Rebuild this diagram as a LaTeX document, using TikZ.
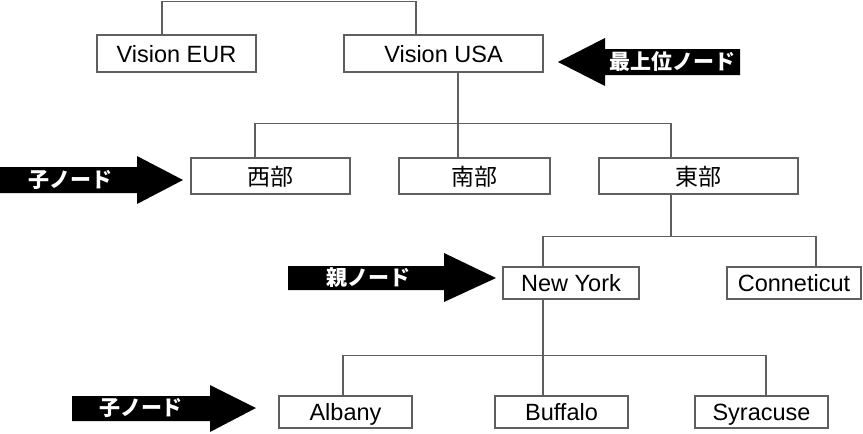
\documentclass[tikz,border=0pt]{standalone}
\usepackage{fontspec}
\setmainfont{Liberation Sans}
\newfontfamily\jp{Noto Sans CJK JP}
\definecolor{lg}{RGB}{95,95,95}
\begin{document}
\begin{tikzpicture}[x=1pt,y=-1pt,
  box/.style={draw=lg, line width=1.2pt, fill=white, inner sep=0pt, text height=20pt, text depth=2.5pt, font=\fontsize{23.5}{25}\selectfont},
  jbox/.style={box, text height=20pt, text depth=2pt, font=\jp\fontsize{23}{25}\selectfont},
  conn/.style={draw=lg, line width=1.3pt},
  lbl/.style={text=white, font=\jp\bfseries\fontsize{21}{22}\selectfont, inner sep=0pt},
  arr/.style={fill=black}]
\useasboundingbox (0,0) rectangle (863,434);
% boxes
\node[box, minimum width=159pt, minimum height=37pt] (veur) at (176.5,53.5) {Vision EUR};
\node[box, minimum width=199pt, minimum height=37pt] (vusa) at (443.5,53.5) {Vision USA};
\node[jbox, minimum width=159pt, minimum height=36pt] (west) at (270.5,176) {西部};
\node[jbox, minimum width=151pt, minimum height=36pt] (south) at (474.5,176) {南部};
\node[jbox, minimum width=199pt, minimum height=36pt] (east) at (698.5,176) {東部};
\node[box, minimum width=136pt, minimum height=32pt] (ny) at (571,283) {New York};
\node[box, minimum width=134pt, minimum height=32pt] (conn) at (794,283) {Conneticut};
\node[box, minimum width=133pt, minimum height=32pt] (alb) at (345.5,412) {Albany};
\node[box, minimum width=133pt, minimum height=32pt] (buf) at (561.5,412) {Buffalo};
\node[box, minimum width=133pt, minimum height=32pt] (syr) at (761.5,412) {Syracuse};
% tree connectors
\draw[conn] ([xshift=-14.5pt]veur.north) -- ++(0,-33) -| ([xshift=-27.5pt]vusa.north);
\draw[conn] ([xshift=14.5pt]vusa.south) -- ([xshift=-16.5pt]south.north);
\draw[conn] ([xshift=-15.5pt]west.north) -- ++(0,-34) -| ([xshift=-27.5pt]east.north);
\draw[conn] ([xshift=-27.5pt]east.south) -- ++(0,42) coordinate (b2);
\draw[conn] ([xshift=-28pt]ny.north) |- (b2) -| ([xshift=22pt]conn.north);
\draw[conn] ([xshift=-28pt]ny.south) -- ([xshift=-18.5pt]buf.north);
\draw[conn] ([xshift=-2.5pt]alb.north) -- ++(0,-40) -| ([xshift=4.5pt]syr.north);
% pointer arrows
\fill[arr] (558,62) -- (605,38) -- (605,49) -- (740,49) -- (740,75) -- (605,75) -- (605,86) -- cycle;
\node[lbl] (t1) at (672,62) {最上位ノード};
\fill[arr] (0,167) -- (137,167) -- (137,156) -- (183,180) -- (137,204) -- (137,193) -- (0,193) -- cycle;
\node[lbl] (t2) at (70,180) {子ノード};
\fill[arr] (288,266) -- (444,266) -- (444,253) -- (496,278) -- (444,302) -- (444,290) -- (288,290) -- cycle;
\node[lbl] (t3) at (368,278) {親ノード};
\fill[arr] (72,396) -- (210,396) -- (210,385) -- (256,408) -- (210,432) -- (210,421) -- (72,421) -- cycle;
\node[lbl] (t4) at (141,408) {子ノード};
\end{tikzpicture}
\end{document}
